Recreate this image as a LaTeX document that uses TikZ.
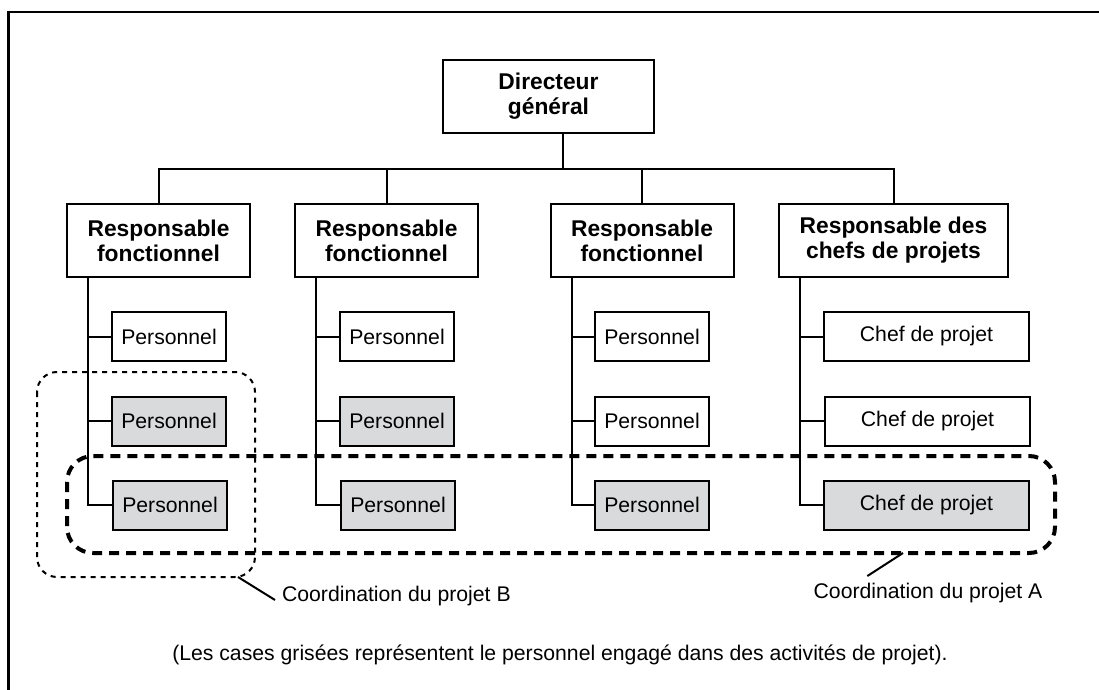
\documentclass[tikz,border=0pt]{standalone}
\usepackage{fontspec}
\setmainfont{Liberation Sans}
\usetikzlibrary{calc}
\definecolor{caseGrise}{HTML}{D9DADB}
\tikzset{
  chef/.style={draw, line width=1pt, font=\fontsize{11.4}{12.5}\selectfont\bfseries, align=center, minimum height=36.5pt, inner sep=0pt},
  perso/.style={draw, line width=1pt, font=\fontsize{10.6}{12}\selectfont, minimum width=57pt, minimum height=24.5pt, inner sep=0pt},
  grise/.style={fill=caseGrise},
  trait/.style={line width=1pt},
  legende/.style={font=\fontsize{10.6}{12}\selectfont},
}

\begin{document}
\begin{tikzpicture}[x=0.5pt, y=-0.5pt]
			\useasboundingbox (0,0) rectangle (1099,690);
			%%%%% START %%%%%
			\draw[line width=1.3pt] (1099,12) -- (8.5,12) -- (8.5,690);
			
			\node[chef, minimum width=105.5pt] (dg) at (548.5,96.5) {Directeur\\général};
			
			\node[chef, minimum width=91.5pt] (r1) at (158.5,240.5) {Responsable\\fonctionnel};
			\node[chef, minimum width=91.5pt] (r2) at (386.5,240.5) {Responsable\\fonctionnel};
			\node[chef, minimum width=91.5pt] (r3) at (642,240.5) {Responsable\\fonctionnel};
			\node[chef, minimum width=114.5pt] (r4) at (893.5,240.5) {Responsable des\\chefs de projets};
			
			\node[perso] (p11) at (169,336.5) {Personnel};
			\node[perso, grise] (p12) at (169,421) {Personnel};
			\node[perso, grise] (p13) at (170,505) {Personnel};
			
			\node[perso] (p21) at (397,336.5) {Personnel};
			\node[perso, grise] (p22) at (397,421) {Personnel};
			\node[perso, grise] (p23) at (398,505) {Personnel};
			
			\node[perso] (p31) at (652,336.5) {Personnel};
			\node[perso] (p32) at (652,421) {Personnel};
			\node[perso, grise] (p33) at (652,505) {Personnel};
			
			\node[perso, minimum width=102.5pt] (p41) at (926.5,336.5) {Chef de projet};
			\node[perso, minimum width=102.5pt] (p42) at (927.5,421) {Chef de projet};
			\node[perso, grise, minimum width=102.5pt] (p43) at (926.5,505) {Chef de projet};
			
			% directeur -> responsables
			\coordinate (bus) at (562.5,169);
			\draw[trait] ([xshift=7pt]dg.south) -- (bus);
			\draw[trait] (r1.north) -- (r1.north |- bus) -- (r4.north |- bus) -- (r4.north);
			\draw[trait] (r2.north) -- (r2.north |- bus);
			\draw[trait] (r3.north) -- (r3.north |- bus);
			
			% responsables -> personnel
			\foreach \c in {1,2,3,4} {
				\coordinate (t\c) at ([xshift=11pt]r\c.south west);
				\draw[trait] (t\c) |- (p\c3.west);
				\draw[trait] (p\c1.west) -- (p\c1.west -| t\c);
				\draw[trait] (p\c2.west) -- (p\c2.west -| t\c);
			}
			
			% coordination des projets
			\draw[line width=1pt, dash pattern=on 2.5pt off 2.5pt, rounded corners=10pt] (37,372) rectangle (255,577);
			\draw[line width=2pt, dash pattern=on 5pt off 3.5pt, rounded corners=13pt] (67,456) rectangle (1055,553);
			
			\coordinate (cB) at (238,577);
			\node[legende, anchor=west] (labB) at (275,596) {Coordination du projet B};
			\draw[trait] (cB) -- ([yshift=-2pt]labB.west);
			
			\coordinate (cA) at (903,553);
			\node[legende] (labA) at (928,593) {Coordination du projet A};
			\draw[trait] (cA) -- ($(labA.north west)!0.25!(labA.north east)$);
			
			\node[legende] (note) at (560,655) {(Les cases grisées représentent le personnel engagé dans des activités de projet).};
			%%%%% END %%%%%
\end{tikzpicture}
\end{document}
